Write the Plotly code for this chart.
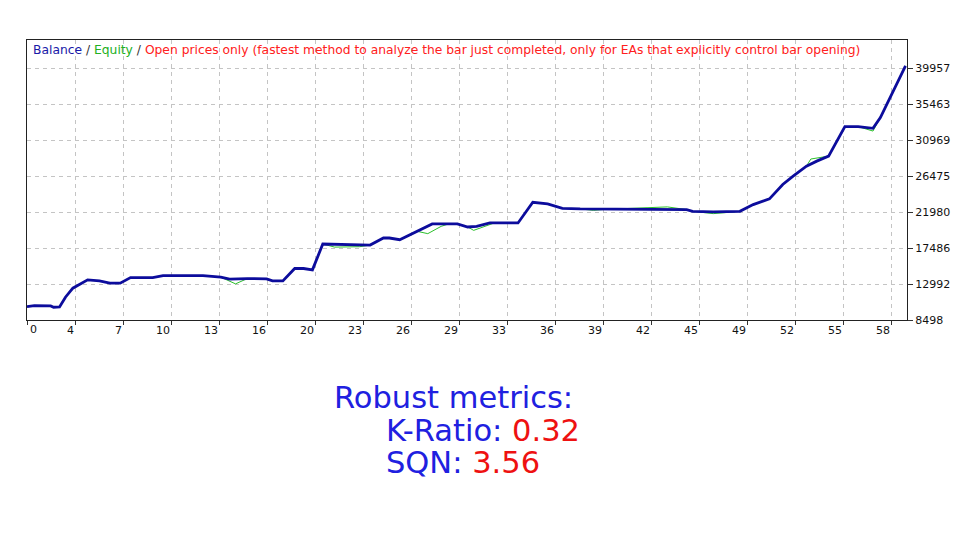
import plotly.graph_objects as go

# ---- data ----
balance_x = [0, 0.5, 1.6, 1.8, 2.2, 2.6, 3.1, 3.6, 4.1, 4.9, 5.6, 6.3, 7.0, 8.5, 9.2, 11.9,
             13.1, 13.7, 14.9, 16.2, 16.6, 17.3, 18.1, 18.7, 19.3, 20.0, 23.2, 24.1, 24.5,
             25.2, 26.4, 27.4, 29.1, 29.8, 30.4, 31.3, 33.2, 34.2, 35.2, 36.2, 37.4, 44.6,
             45.0, 46.4, 48.2, 49.1, 50.2, 51.1, 51.8, 52.7, 53.4, 54.2, 55.3, 56.2, 57.2,
             57.7, 59.4]
balance_y = [10164, 10290, 10252, 10089, 10127, 11342, 12470, 12971, 13510, 13385, 13097,
             13097, 13798, 13798, 14049, 14049, 13848, 13598, 13673, 13635, 13385, 13385,
             14926, 14926, 14763, 17983, 17858, 18735, 18735, 18522, 19562, 20489, 20489,
             20113, 20188, 20615, 20615, 23196, 22995, 22444, 22369, 22281, 22068, 21993,
             22068, 22908, 23622, 25414, 26453, 27706, 28333, 28960, 32643, 32643, 32430,
             33771, 40236]

equity_x = [0, 0.5, 1.6, 1.8, 2.2, 2.6, 3.1, 3.6, 4.1, 4.9, 5.6, 6.3, 7.0, 8.5, 9.2, 11.9,
            13.1, 14.1, 14.9, 16.2, 16.6, 17.3, 18.1, 18.7, 19.3, 20.0, 20.8, 22.5, 23.2,
            24.1, 24.5, 25.2, 26.4, 27.1, 28.0, 28.5, 29.1, 29.8, 30.2, 31.5, 33.2, 34.2,
            35.2, 36.2, 37.4, 38.3, 39.0, 43.3, 44.6, 45.0, 46.4, 47.2, 48.2, 49.1, 50.2,
            51.1, 51.8, 52.7, 53.0, 53.8, 54.2, 55.3, 56.2, 57.2, 57.7, 59.4]
equity_y = [10164, 10290, 10252, 10089, 10127, 11342, 12470, 12971, 13510, 13385, 13097,
            13097, 13798, 13798, 14049, 14049, 13848, 13009, 13673, 13635, 13385, 13385,
            14926, 14926, 14763, 17983, 17600, 17650, 17858, 18735, 18735, 18522, 19562,
            19280, 20190, 20489, 20489, 20113, 19690, 20550, 20615, 23196, 22995, 22444,
            22369, 22190, 22300, 22620, 22281, 22068, 21780, 21900, 22068, 22908, 23622,
            25414, 26453, 27706, 28600, 28900, 28960, 32643, 32643, 32090, 33771, 40236]

x_tick_pos = [k * 3.2455 for k in range(19)]
x_tick_labels = ["0", "4", "7", "10", "13", "16", "20", "23", "26", "29", "33", "36",
                 "39", "42", "45", "49", "52", "55", "58"]
y_tick_vals = [8498, 12992, 17486, 21980, 26475, 30969, 35463, 39957]

header_parts = [("Balance", "#1a1aa8"), (" / ", "#333333"), ("Equity", "#22b022"),
                (" / ", "#333333"),
                ("Open prices only (fastest method to analyze the bar just completed, "
                 "only for EAs that explicitly control bar opening)", "#ff2020")]

metric_title = "Robust metrics:"
metric_names = ["K-Ratio: ", "SQN: "]
metric_values = ["0.32", "3.56"]

# ---- figure ----
fig = go.Figure()
fig.add_trace(go.Scatter(x=equity_x, y=equity_y, mode="lines",
                         line=dict(color="#2cc02c", width=1), name="Equity",
                         hoverinfo="skip"))
fig.add_trace(go.Scatter(x=balance_x, y=balance_y, mode="lines",
                         line=dict(color="#0c0c9c", width=2.8), name="Balance",
                         hoverinfo="skip"))

tick_font = dict(family="DejaVu Sans", size=11, color="#111111")
fig.update_xaxes(range=[0, 59.5], tickmode="array", tickvals=x_tick_pos,
                 ticktext=[""] + x_tick_labels[1:], ticklabelposition="outside left",
                 ticks="outside", ticklen=4, tickcolor="#333333", automargin=False,
                 showgrid=True, gridcolor="#c4c4c4", griddash="4px,4px", gridwidth=1,
                 showline=True, linecolor="#222222", linewidth=1, mirror=True,
                 zeroline=False, tickfont=tick_font)
fig.update_yaxes(range=[8498, 43460], side="right", tickmode="array",
                 tickvals=y_tick_vals, ticktext=[str(v) for v in y_tick_vals],
                 ticks="outside", ticklen=5, tickcolor="#333333", automargin=False,
                 showgrid=True, gridcolor="#c4c4c4", griddash="4px,4px", gridwidth=1,
                 showline=True, linecolor="#222222", linewidth=1, mirror=True,
                 zeroline=False, tickfont=tick_font)

header = "".join(f'<span style="color:{c}">{t}</span>' for t, c in header_parts)
annotations = [
    dict(text=header, xref="paper", yref="paper", x=0, y=1, xanchor="left",
         yanchor="top", xshift=4, yshift=-1, showarrow=False,
         font=dict(family="DejaVu Sans", size=12.3)),
    dict(text=x_tick_labels[0], xref="x", yref="paper", x=0, y=0, xanchor="left",
         yanchor="top", xshift=1, yshift=-1, showarrow=False, font=tick_font),
    dict(text=metric_title, xref="paper", yref="paper", x=0, y=0, xanchor="left",
         yanchor="middle", xshift=305, yshift=-77, showarrow=False,
         font=dict(family="DejaVu Sans", size=30.5, color="#2020e0")),
]
for i, (n, v) in enumerate(zip(metric_names, metric_values)):
    annotations.append(dict(
        text=f'<span style="color:#2020e0">{n}</span><span style="color:#ee1111">{v}</span>',
        xref="paper", yref="paper", x=0, y=0, xanchor="left", yanchor="middle",
        xshift=357, yshift=-110 - 32 * i, showarrow=False,
        font=dict(family="DejaVu Sans", size=30.5)))

# the page body adds an 8 px offset, so the figure is sized to fit the window
fig.update_layout(width=944, height=524, margin=dict(l=19, r=45, t=32, b=212),
                  paper_bgcolor="white", plot_bgcolor="white", showlegend=False,
                  annotations=annotations)

fig.write_html("out.html")
